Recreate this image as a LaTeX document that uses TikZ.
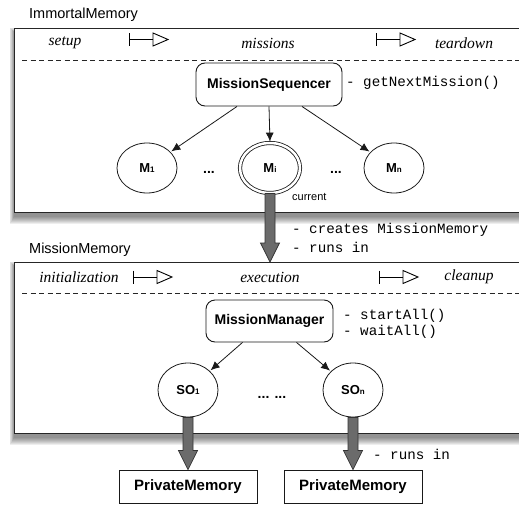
\documentclass[tikz,border=0pt]{standalone}
\usepackage{fontspec}
\setmainfont{Liberation Sans}
\setmonofont{Liberation Mono}
\newfontfamily\serifit{Liberation Serif}
\usetikzlibrary{shapes.geometric,calc,arrows.meta}
\pgfdeclarelayer{bg}
\pgfsetlayers{bg,main}
\newcommand\sbs[1]{{\fontsize{8}{8}\selectfont #1}}
\newcommand\bigarr[2]{%
  \path[bigarrow] let \p1=(#1), \p2=(#2) in
    (\x1-5pt,\y1) -- (\x1-5pt,\y2+19pt) -- (\x1-9.5pt,\y2+19pt) -- (\x1,\y2)
    -- (\x1+9.5pt,\y2+19pt) -- (\x1+5pt,\y2+19pt) -- (\x1+5pt,\y1) -- cycle;}
\newcommand\boxshadow[1]{%
  \begin{pgfonlayer}{bg}
  \foreach \d in {0,1,...,7}{
    \fill[black,opacity=0.065] ($(#1.north west)+(-0.6*\d,4-0.6*\d)$) rectangle ($(#1.south east)+(0.6*\d,4+1.0*\d)$);
  }
  \end{pgfonlayer}}
\begin{document}
\begin{tikzpicture}[x=1pt,y=-1pt,
  membox/.style={draw=black!85,line width=1.3pt,fill=white,anchor=north west,inner sep=0pt,minimum width=516pt},
  rbox/.style={draw=black!90,rounded corners=9pt,line width=0.9pt,fill=white,inner sep=0pt,font=\fontsize{14}{16}\selectfont\bfseries},
  pbox/.style={draw=black!90,line width=0.9pt,fill=white,inner sep=0pt,minimum width=138pt,minimum height=33pt,font=\fontsize{15}{17}\selectfont\bfseries},
  mnode/.style={ellipse,draw=black!90,line width=0.8pt,fill=white,inner sep=0pt,minimum width=60pt,minimum height=50pt,font=\fontsize{13}{15}\selectfont\bfseries},
  phase/.style={font=\serifit\itshape\fontsize{15.5}{17}\selectfont,inner sep=0pt},
  code/.style={font=\ttfamily\fontsize{14.2}{16}\selectfont,anchor=west,inner sep=0pt},
  title/.style={font=\fontsize{14.5}{16}\selectfont,anchor=west,inner sep=0pt},
  dots/.style={font=\fontsize{14}{16}\selectfont\bfseries,inner sep=0pt},
  sepline/.style={line width=0.9pt,dash pattern=on 5pt off 3.5pt,draw=black!85},
  thinarrow/.style={-{Latex[length=9pt,width=8pt]},line width=0.8pt,draw=black!90,shorten >=1pt},
  bigarrow/.style={fill=black!58,draw=black!80,line width=0.7pt},
  phasearrow/.pic={
    \draw[line width=0.9pt] (0,-6.5) -- (0,6.5);
    \draw[line width=0.9pt] (0,0) -- (24,0);
    \draw[line width=0.9pt,fill=white] (24,-6.5) -- (39,0) -- (24,6.5) -- cycle;}
]
\useasboundingbox (0,0) rectangle (519,506);

% ---------- Immortal memory ----------
\node[title] (imlabel) at (29,15) {ImmortalMemory};
\node[membox,minimum height=184pt] (imm) at (14,28) {};
\boxshadow{imm}
\node[phase] (setup) at (65,43) {setup};
\node[phase] (missions) at (268,43) {missions};
\node[phase] (teardown) at (464,43) {teardown};
\pic at (129,39.5) {phasearrow};
\pic at (376,39.5) {phasearrow};
\draw[sepline] (22,60) -- (530,60);

\node[rbox,minimum width=146pt,minimum height=43pt] (ms) at (269,84.5) {MissionSequencer};
\node[code] (gnm) at (346,83) {- getNextMission()};

\node[mnode] (m1) at (147,168) {M\sbs{1}};
\node[mnode,double=white,double distance=2.5pt] (mi) at (270,168) {M\sbs{i}};
\node[mnode] (mn) at (394,168) {M\sbs{n}};
\node[dots] (d1) at (209,172) {...};
\node[dots] (d2) at (336,172) {...};
\node[font=\fontsize{11}{13}\selectfont,anchor=west,inner sep=0pt] (cur) at (292,197) {current};

\draw[thinarrow] ($(ms.south)+(-32,0)$) -- (m1);
\draw[thinarrow] (ms.south) -- (mi.north);
\draw[thinarrow] ($(ms.south)+(33,0)$) -- (mn);

% ---------- Mission memory ----------
\node[title] (mmlabel) at (29,250) {MissionMemory};
\node[membox,minimum height=171pt] (mm) at (14,262) {};
\boxshadow{mm}
\node[phase] (init) at (79,277) {initialization};
\node[phase] (exec) at (270,277) {execution};
\node[phase] (clean) at (469,277) {cleanup};
\pic at (133,277) {phasearrow};
\pic at (379,277) {phasearrow};
\draw[sepline] (22,293) -- (530,293);

\node[rbox,minimum width=127pt,minimum height=42pt] (mgr) at (269.5,321) {MissionManager};
\node[code] (sa) at (343,316) {- startAll()};
\node[code] (wa) at (343,332) {- waitAll()};

\node[mnode,minimum height=54pt] (so1) at (188,390) {SO\sbs{1}};
\node[mnode,minimum height=54pt] (son) at (353,390) {SO\sbs{n}};
\node[dots] (d3) at (272,397) {... ...};

\draw[thinarrow] ($(mgr.south)+(-27,0)$) -- (so1);
\draw[thinarrow] ($(mgr.south)+(27,0)$) -- (son);

% ---------- Private memories ----------
\node[pbox] (pm1) at (188,486.5) {PrivateMemory};
\node[pbox] (pm2) at (353,486.5) {PrivateMemory};

% ---------- big arrows ----------
\bigarr{mi.south}{mi.south |- mm.north}
\bigarr{so1.south}{pm1.north}
\bigarr{son.south}{pm2.north}

\node[code] (cm) at (292,230) {- creates MissionMemory};
\node[code] (ri) at (292,247) {- runs in};
\node[code] (ri2) at (373,454) {- runs in};
\end{tikzpicture}
\end{document}
